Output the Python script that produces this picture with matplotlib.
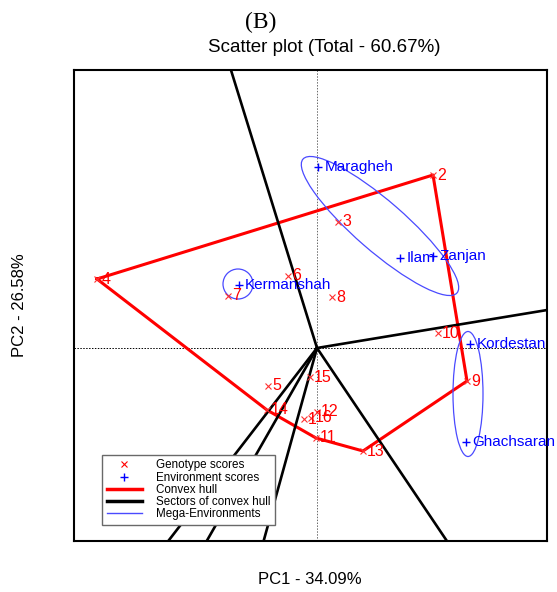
import numpy as np
import matplotlib.pyplot as plt
from matplotlib.patches import Ellipse
from matplotlib.lines import Line2D

plt.rcParams['font.family'] = ['Liberation Sans', 'DejaVu Sans']

# genotype scores (PC1, PC2)
genotypes = ['1', '2', '3', '4', '5', '6', '7', '8', '9', '10',
             '11', '12', '13', '14', '15', '16']
gen_pc1 = [-0.13, 1.16, 0.21, -2.20, -0.49, -0.29, -0.89, 0.15, 1.50, 1.21,
           -0.01, 0.00, 0.46, -0.50, -0.07, -0.06]
gen_pc2 = [-0.71, 1.73, 1.26, 0.69, -0.38, 0.72, 0.52, 0.51, -0.33, 0.15,
           -0.90, -0.64, -1.03, -0.62, -0.29, -0.70]

# environment scores
environments = ['Maragheh', 'Ilam', 'Zanjan', 'Kermanshah', 'Kordestan', 'Ghachsaran']
env_pc1 = [0.01, 0.83, 1.16, -0.78, 1.53, 1.49]
env_pc2 = [1.81, 0.90, 0.92, 0.63, 0.04, -0.94]

# mega-environment ellipses
me_pc1 = [0.63, -0.79, 1.51]
me_pc2 = [1.22, 0.64, -0.46]
me_width = [2.04, 0.30, 0.30]
me_height = [0.50, 0.30, 1.25]
me_angle = [-41, 0, 0]


def convex_hull(points):
    pts = sorted(set(points))
    def cross(o, a, b):
        return (a[0] - o[0]) * (b[1] - o[1]) - (a[1] - o[1]) * (b[0] - o[0])
    lower = []
    for p in pts:
        while len(lower) >= 2 and cross(lower[-2], lower[-1], p) <= 0:
            lower.pop()
        lower.append(p)
    upper = []
    for p in reversed(pts):
        while len(upper) >= 2 and cross(upper[-2], upper[-1], p) <= 0:
            upper.pop()
        upper.append(p)
    return lower[:-1] + upper[:-1]


fig = plt.figure(figsize=(5.57, 5.92), dpi=100)
ax = fig.add_axes([74 / 557, 1 - 541 / 592, 473 / 557, 471 / 592])
ax.set_xlim(-2.43, 2.30)
ax.set_ylim(-1.93, 2.78)
ax.set_xticks([])
ax.set_yticks([])
for s in ax.spines.values():
    s.set_linewidth(1.5)

ax.axhline(0, color='black', ls=(0, (1.5, 1.5)), lw=0.7, zorder=1)
ax.axvline(0, color='dimgray', ls=(0, (1.5, 1.5)), lw=0.7, zorder=1)

# convex hull and sectors
hull = convex_hull(list(zip(gen_pc1, gen_pc2)))
hx = [p[0] for p in hull] + [hull[0][0]]
hy = [p[1] for p in hull] + [hull[0][1]]
ax.plot(hx, hy, color='red', lw=2.2, zorder=3)

for i in range(len(hull)):
    a = np.array(hull[i])
    b = np.array(hull[(i + 1) % len(hull)])
    d = b - a
    t = -np.dot(a, d) / np.dot(d, d)
    foot = a + t * d
    ax.plot([0, foot[0] * 20], [0, foot[1] * 20], color='black', lw=1.9, zorder=4)

# mega-environments
for cx, cy, w, h, ang in zip(me_pc1, me_pc2, me_width, me_height, me_angle):
    ax.add_patch(Ellipse((cx, cy), w, h, angle=ang, fill=False,
                         edgecolor='#4a4aff', lw=0.9, zorder=5))

# genotypes
ax.plot(gen_pc1, gen_pc2, 'x', color='#ff3030', ms=4.5, mew=0.8, zorder=6)
for g, x, y in zip(genotypes, gen_pc1, gen_pc2):
    ax.annotate(g, (x, y), xytext=(3, 0), textcoords='offset points',
                color='red', fontsize=11.5, va='center', ha='left', zorder=7)

# environments
ax.plot(env_pc1, env_pc2, '+', color='blue', ms=6, mew=1.0, zorder=6)
for e, x, y in zip(environments, env_pc1, env_pc2):
    ax.annotate(e, (x, y), xytext=(4.5, 0), textcoords='offset points',
                color='blue', fontsize=11, va='center', ha='left', zorder=7)

handles = [
    Line2D([], [], marker='x', color='red', ls='none', ms=4.5, mew=0.8),
    Line2D([], [], marker='+', color='blue', ls='none', ms=6, mew=1.0),
    Line2D([], [], color='red', lw=2.5),
    Line2D([], [], color='black', lw=2.5),
    Line2D([], [], color='#4a4aff', lw=1.0),
]
labels = ['Genotype scores', 'Environment scores', 'Convex hull',
          'Sectors of convex hull', 'Mega-Environments']
leg = ax.legend(handles, labels, loc='lower left',
                bbox_to_anchor=((102 - 74) / 473, (541 - 525) / 471),
                fontsize=8.4, frameon=True, fancybox=False, framealpha=1,
                edgecolor='dimgray', handlelength=3.0, handletextpad=1.2,
                labelspacing=0.02, borderpad=0.4, borderaxespad=0)
leg.get_frame().set_linewidth(1.0)
leg.set_zorder(10)

fig.text(261 / 557, 1 - 22 / 592, '(B)', family='Liberation Serif', fontsize=17,
         ha='center', va='center')
fig.text(324 / 557, 1 - 48 / 592, 'Scatter plot (Total - 60.67%)', fontsize=13.5,
         ha='center', va='center')
fig.text(310 / 557, 1 - 580 / 592, 'PC1 - 34.09%', fontsize=12,
         ha='center', va='center')
fig.text(20 / 557, 1 - 305 / 592, 'PC2 - 26.58%', fontsize=12,
         ha='center', va='center', rotation=90)

fig.savefig('out.png', dpi=100)
